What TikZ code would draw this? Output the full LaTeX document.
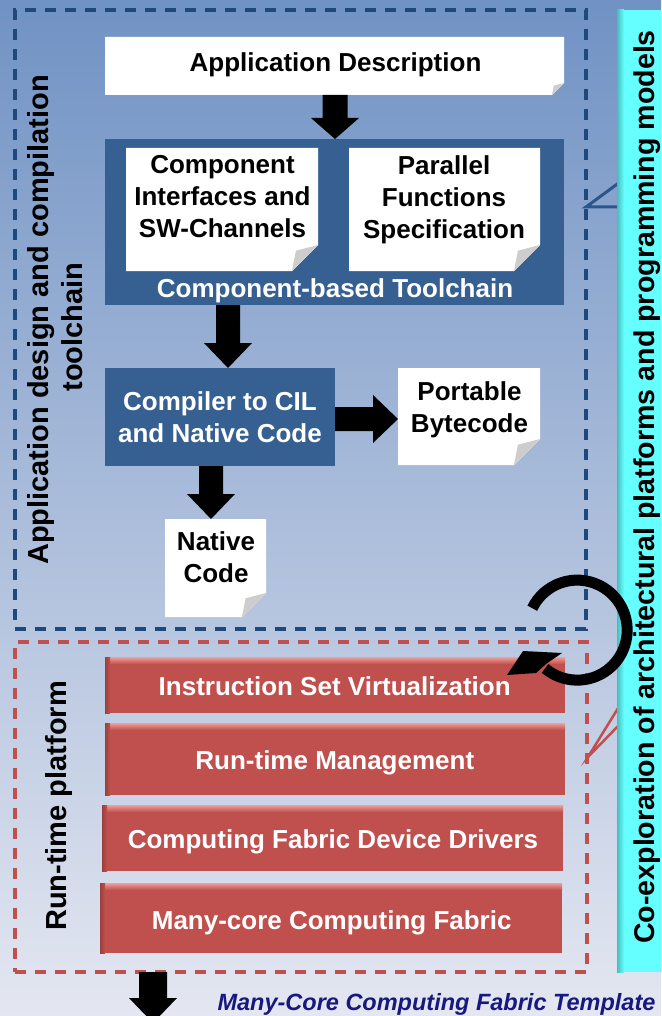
\documentclass[tikz,border=0pt]{standalone}
\usepackage{fontspec}
\setmainfont{Liberation Sans}
\usetikzlibrary{calc}
\definecolor{bgtop}{RGB}{112,146,196}
\definecolor{bgbot}{RGB}{228,231,241}
\definecolor{dkblue}{RGB}{55,96,146}
\definecolor{dashblue}{RGB}{31,73,125}
\definecolor{redfill}{RGB}{192,80,77}
\definecolor{redlight}{RGB}{240,160,156}
\definecolor{cyanfill}{RGB}{102,255,255}
\definecolor{cyanedge}{RGB}{70,190,190}
\definecolor{navy}{RGB}{23,24,128}
\definecolor{foldgray}{RGB}{205,205,205}
\definecolor{callblue}{RGB}{45,85,140}
\newcommand\notefold[2]{%
  \fill[white] (#1.north west) -- (#1.north east) -- ($(#1.south east)+(0,-#2)$) -- ($(#1.south east)+(-#2,0)$) -- (#1.south west) -- cycle;
  \fill[foldgray] ($(#1.south east)+(0,-#2)$) -- ($(#1.south east)+(-#2,0)$) -- ($(#1.south east)+(-0.85*#2,-0.78*#2)$) -- cycle;}
\newcommand\blkdown[6]{%
  \fill[black] ($(#2.south -| #1)+(-#4,0)$) -- ($(#3.north -| #1)+(-#4,-#6)$) -- ($(#3.north -| #1)+(-#5,-#6)$) -- (#3.north -| #1) -- ($(#3.north -| #1)+(#5,-#6)$) -- ($(#3.north -| #1)+(#4,-#6)$) -- ($(#2.south -| #1)+(#4,0)$) -- cycle;}
\newcommand\blkright[6]{%
  \fill[black] ($(#2.east |- #1)+(0,-#4)$) -- ($(#3.west |- #1)+(-#6,-#4)$) -- ($(#3.west |- #1)+(-#6,-#5)$) -- (#3.west |- #1) -- ($(#3.west |- #1)+(-#6,#5)$) -- ($(#3.west |- #1)+(-#6,#4)$) -- ($(#2.east |- #1)+(0,#4)$) -- cycle;}
\begin{document}
\begin{tikzpicture}[x=1pt,y=-1pt,
  box/.style={rectangle, inner sep=0pt, outer sep=0pt, draw=none},
  txt/.style={inner sep=0pt, font=\fontsize{26}{32}\selectfont\bfseries, align=center},
  onetxt/.style={txt, text height=18.7pt, text depth=5.5pt},
  sidetxt/.style={inner sep=0pt, font=\fontsize{29}{34}\selectfont\bfseries, align=center, rotate=90},
  dashbox/.style={box, line width=3.2pt, dash pattern=on 11pt off 9pt},
]
\useasboundingbox (0,0) rectangle (661,1016);
\clip (0,0) rectangle (661,1016);
% background
\shade[top color=bgtop, bottom color=bgbot] (0,0) rectangle (661,1016);

% dashed group boxes
\node[dashbox, draw=dashblue, minimum width=571pt, minimum height=619pt] (design) at (300.5,319.5) {};
\node[dashbox, draw=redfill, minimum width=572pt, minimum height=330pt] (runtime) at (301,807) {};

% callout pointers
\coordinate (cb1) at (620,182);
\coordinate (cbt) at (586,207);
\coordinate (cb2) at (620,207);
\draw[callblue, line width=3pt] (cb1) -- (cbt) -- (cb2);
\coordinate (cr1) at (620,705);
\coordinate (crt) at (588,757);
\coordinate (cr2) at (620,724);
\draw[redfill, line width=2.5pt] (cr1) -- (crt) -- (cr2);

% cyan side box
\node[box, fill=cyanfill, minimum width=53pt, minimum height=962pt] (cyan) at (643.5,491) {};
\shade[left color=cyanedge, right color=cyanfill] (cyan.north west) rectangle ($(cyan.south west)+(7,0)$);
\node[sidetxt, font=\fontsize{28.6}{34}\selectfont\bfseries] (cyant) at (647.5,487) {Co-exploration of architectural platforms and programming models};

% side labels
\node[sidetxt] (designt) at (55.6,320) {Application design and compilation\\toolchain\hspace*{14pt}};
\node[sidetxt] (runtimet) at (58.6,806) {Run-time platform};

% application description
\node[box, minimum width=459pt, minimum height=58pt] (app) at (334.5,66) {};
\notefold{app}{12}
\node[onetxt] (appt) at (335.5,64.6) {Application Description};

% component-based toolchain
\node[box, fill=dkblue, minimum width=459pt, minimum height=166pt] (tool) at (334.5,222) {};
\node[onetxt, white] (toolt) at (335,290.6) {Component-based Toolchain};
\node[box, minimum width=192pt, minimum height=123pt] (n1) at (222,209.5) {};
\notefold{n1}{26}
\node[txt] (n1t) at (222.5,197) {Component\\Interfaces and\\SW-Channels};
\node[box, minimum width=191pt, minimum height=123pt] (n2) at (444.5,209.5) {};
\notefold{n2}{26}
\node[txt] (n2t) at (444,199.7) {Parallel\\Functions\\Specification};

% compiler
\node[box, fill=dkblue, minimum width=230pt, minimum height=98pt] (comp) at (220,417) {};
\node[txt, white] (compt) at (220,417.5) {Compiler to CIL\\and Native Code};
\node[box, minimum width=142pt, minimum height=97pt] (port) at (469,416.5) {};
\notefold{port}{26}
\node[txt] (portt) at (469.5,409.7) {Portable\\Bytecode};
\node[box, minimum width=101pt, minimum height=98pt] (nat) at (215.5,568) {};
\notefold{nat}{24}
\node[txt] (natt) at (216,557.5) {Native\\Code};

% run-time platform layers
\node[box, fill=redfill, minimum width=460pt, minimum height=56pt] (isv) at (335,685) {};
\node[box, fill=redfill, minimum width=460pt, minimum height=72pt] (rtm) at (335,759) {};
\node[box, fill=redfill, minimum width=461pt, minimum height=66pt] (cfdd) at (332.5,838) {};
\node[box, fill=redfill, minimum width=462pt, minimum height=70pt] (mccf) at (331,918) {};
\foreach \b in {isv,rtm,cfdd,mccf}{
  \shade[top color=redlight, bottom color=redfill] (\b.north west) rectangle ($(\b.north east)+(0,7)$);
  \shade[left color=redfill!80!black, right color=redfill] (\b.north west) rectangle ($(\b.south west)+(5,0)$);
}
\node[onetxt, white] (isvt) at (334.7,688.6) {Instruction Set Virtualization};
\node[onetxt, white] (rtmt) at (334.8,762.6) {Run-time Management};
\node[onetxt, white] (cfddt) at (333,841.6) {Computing Fabric Device Drivers};
\node[onetxt, white] (mccft) at (331.7,922.6) {Many-core Computing Fabric};

% block arrows
\coordinate (ax1) at (335,0);
\coordinate (ax2) at (228,0);
\coordinate (ax3) at (0,419);
\coordinate (ax4) at (211,0);
\coordinate (ax5) at (153,0);
\node[box, minimum size=0pt] (endb) at (153,1023) {};
\blkdown{ax1}{app}{tool}{12.5}{24}{21}
\blkdown{ax2}{tool}{comp}{12}{24}{25}
\blkright{ax3}{comp}{port}{12}{24}{25}
\blkdown{ax4}{comp}{nat}{12}{24}{25}
\blkdown{ax5}{runtime}{endb}{14}{24}{25}

% bottom caption
\node[inner sep=0pt, font=\fontsize{23.5}{28}\selectfont\bfseries\itshape, text=navy, text height=16.8pt, text depth=5pt] (caption) at (436.5,1004.5) {Many-Core Computing Fabric Template};

% circular arrow
\coordinate (cc) at (579,631);
\draw[line width=11pt] (cc) ++(206:52) arc[start angle=206, end angle=490, radius=50];
\fill[black] (507,675) -- (523,651) -- (562,653) -- (546,664) -- (536,673) -- cycle;
\end{tikzpicture}
\end{document}
